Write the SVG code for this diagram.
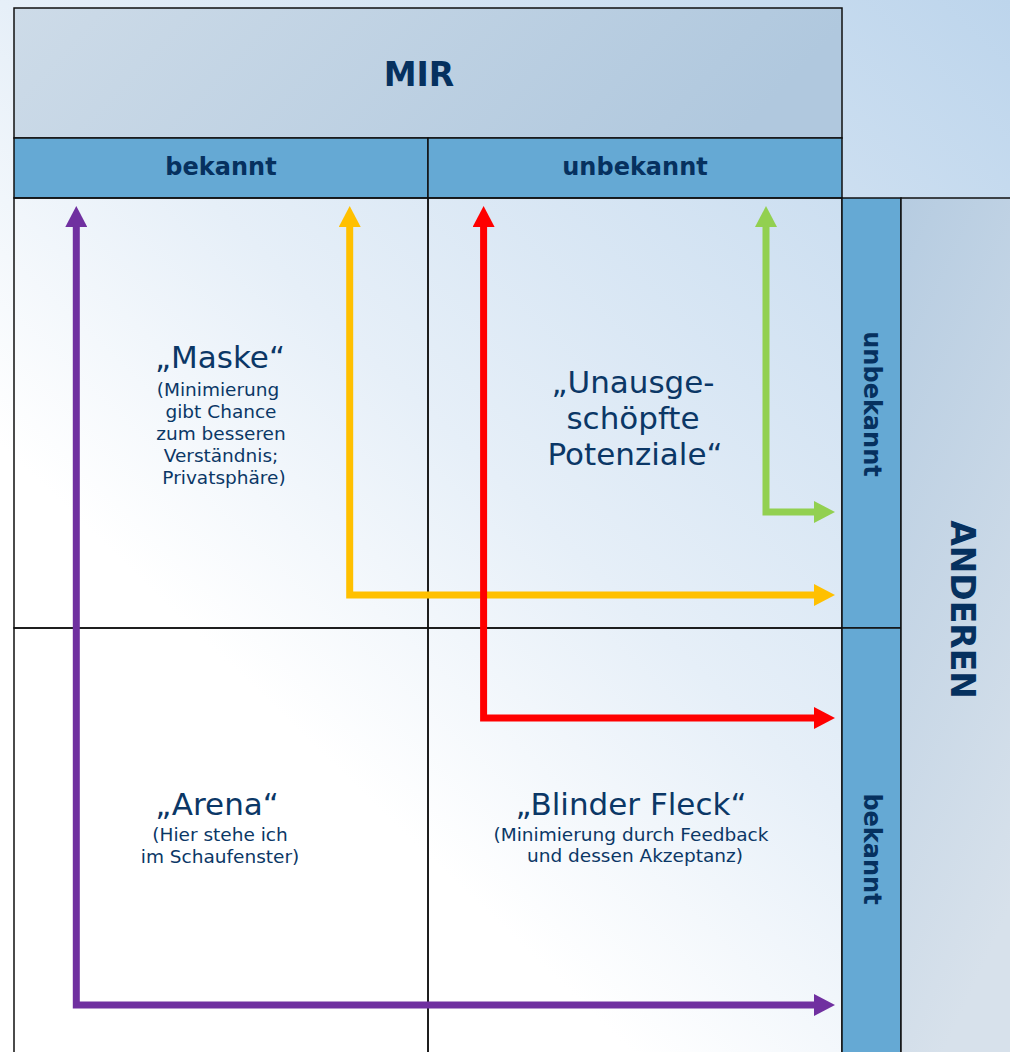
<svg xmlns="http://www.w3.org/2000/svg" width="1010" height="1052" viewBox="0 0 1010 1052">
  <defs>
    <linearGradient id="pageBg" gradientUnits="userSpaceOnUse" x1="0" y1="1052" x2="1010" y2="0">
      <stop offset="0" stop-color="#ffffff"/>
      <stop offset="0.3" stop-color="#ffffff"/>
      <stop offset="0.52" stop-color="#e6eff8"/>
      <stop offset="1" stop-color="#bdd5ec"/>
    </linearGradient>
    <linearGradient id="mirBg" x1="0" y1="0" x2="1" y2="0.15">
      <stop offset="0" stop-color="#cddbe8"/>
      <stop offset="1" stop-color="#b0c8de"/>
    </linearGradient>
    <linearGradient id="andBg" x1="0" y1="0" x2="0.3" y2="1">
      <stop offset="0" stop-color="#b6cce1"/>
      <stop offset="1" stop-color="#d7e1eb"/>
    </linearGradient>
    <marker id="headPurple" markerUnits="userSpaceOnUse" markerWidth="21" markerHeight="22" refX="0" refY="11" orient="auto-start-reverse">
      <path d="M0,0 L21,11 L0,22 Z" fill="#7030a0"/>
    </marker>
    <marker id="headYellow" markerUnits="userSpaceOnUse" markerWidth="21" markerHeight="22" refX="0" refY="11" orient="auto-start-reverse">
      <path d="M0,0 L21,11 L0,22 Z" fill="#ffc000"/>
    </marker>
    <marker id="headRed" markerUnits="userSpaceOnUse" markerWidth="21" markerHeight="22" refX="0" refY="11" orient="auto-start-reverse">
      <path d="M0,0 L21,11 L0,22 Z" fill="#ff0000"/>
    </marker>
    <marker id="headGreen" markerUnits="userSpaceOnUse" markerWidth="21" markerHeight="22" refX="0" refY="11" orient="auto-start-reverse">
      <path d="M0,0 L21,11 L0,22 Z" fill="#92d050"/>
    </marker>
  </defs>
  <style>
    .cell { fill: none; stroke: #111; stroke-width: 1.5; }
    .bar { fill: #65a9d4; stroke: #111; stroke-width: 1.5; }
    .head { font-family: "DejaVu Sans", Verdana, sans-serif; font-weight: bold; fill: #06315f; }
    .big { font-size: 33px; }
    .sub { font-size: 24px; }
    .title { font-family: "DejaVu Sans", Verdana, sans-serif; font-size: 31px; fill: #0b3766; text-anchor: middle; }
    .note { font-family: "DejaVu Sans", Verdana, sans-serif; font-size: 18.5px; fill: #0b3766; text-anchor: middle; }
    .arrow { fill: none; stroke-width: 7; stroke-linejoin: miter; stroke-linecap: butt; }
  </style>

  <!-- page background -->
  <rect x="0" y="0" width="1010" height="1052" fill="url(#pageBg)"/>

  <!-- top header: MIR -->
  <g id="mir">
    <rect x="14" y="8" width="828" height="130" fill="url(#mirBg)" stroke="#111" stroke-width="1.5"/>
    <text class="head big" x="419" y="85.5" text-anchor="middle">MIR</text>
  </g>

  <g id="mir-bekannt">
    <rect class="bar" x="14" y="138" width="414" height="60"/>
    <text class="head sub" x="221" y="175" text-anchor="middle">bekannt</text>
  </g>
  <g id="mir-unbekannt">
    <rect class="bar" x="428" y="138" width="414" height="60"/>
    <text class="head sub" x="635" y="175" text-anchor="middle">unbekannt</text>
  </g>

  <!-- quadrants -->
  <g id="maske">
    <rect class="cell" x="14" y="198" width="414" height="430"/>
    <text class="title" x="220" y="368">„Maske“</text>
    <text class="note" x="218" y="396">(Minimierung</text>
    <text class="note" x="221" y="418">gibt Chance</text>
    <text class="note" x="221" y="440">zum besseren</text>
    <text class="note" x="221" y="462">Verständnis;</text>
    <text class="note" x="224" y="484">Privatsphäre)</text>
  </g>
  <g id="potenziale">
    <rect class="cell" x="428" y="198" width="414" height="430"/>
    <text class="title" x="633" y="393">„Unausge-</text>
    <text class="title" x="633" y="429">schöpfte</text>
    <text class="title" x="635" y="465">Potenziale“</text>
  </g>
  <g id="arena">
    <rect class="cell" x="14" y="628" width="414" height="440"/>
    <text class="title" x="217" y="815">„Arena“</text>
    <text class="note" x="220" y="841">(Hier stehe ich</text>
    <text class="note" x="220" y="863">im Schaufenster)</text>
  </g>
  <g id="blinder-fleck">
    <rect class="cell" x="428" y="628" width="414" height="440"/>
    <text class="title" x="631" y="815">„Blinder Fleck“</text>
    <text class="note" x="631" y="841">(Minimierung durch Feedback</text>
    <text class="note" x="635" y="862">und dessen Akzeptanz)</text>
  </g>

  <!-- right header: ANDEREN -->
  <g id="anderen-unbekannt">
    <rect class="bar" x="842" y="198" width="59" height="430"/>
    <text class="head sub" text-anchor="middle" transform="translate(864,404) rotate(90)">unbekannt</text>
  </g>
  <g id="anderen-bekannt">
    <rect class="bar" x="842" y="628" width="59" height="440"/>
    <text class="head sub" text-anchor="middle" transform="translate(864,849) rotate(90)">bekannt</text>
  </g>
  <g id="anderen">
    <rect x="901" y="198" width="120" height="870" fill="url(#andBg)" stroke="#111" stroke-width="1.5"/>
    <text class="head big" text-anchor="middle" transform="translate(951,609.5) rotate(90)">ANDEREN</text>
  </g>

  <!-- connectors -->
  <g id="connectors">
    <path class="arrow" stroke="#7030a0" d="M76.3,227 V1005 H814" marker-start="url(#headPurple)" marker-end="url(#headPurple)"/>
    <path class="arrow" stroke="#ffc000" d="M349.7,227 V595 H814" marker-start="url(#headYellow)" marker-end="url(#headYellow)"/>
    <path class="arrow" stroke="#ff0000" d="M483.6,227 V718 H814" marker-start="url(#headRed)" marker-end="url(#headRed)"/>
    <path class="arrow" stroke="#92d050" d="M766,227 V512 H814" marker-start="url(#headGreen)" marker-end="url(#headGreen)"/>
  </g>
</svg>
